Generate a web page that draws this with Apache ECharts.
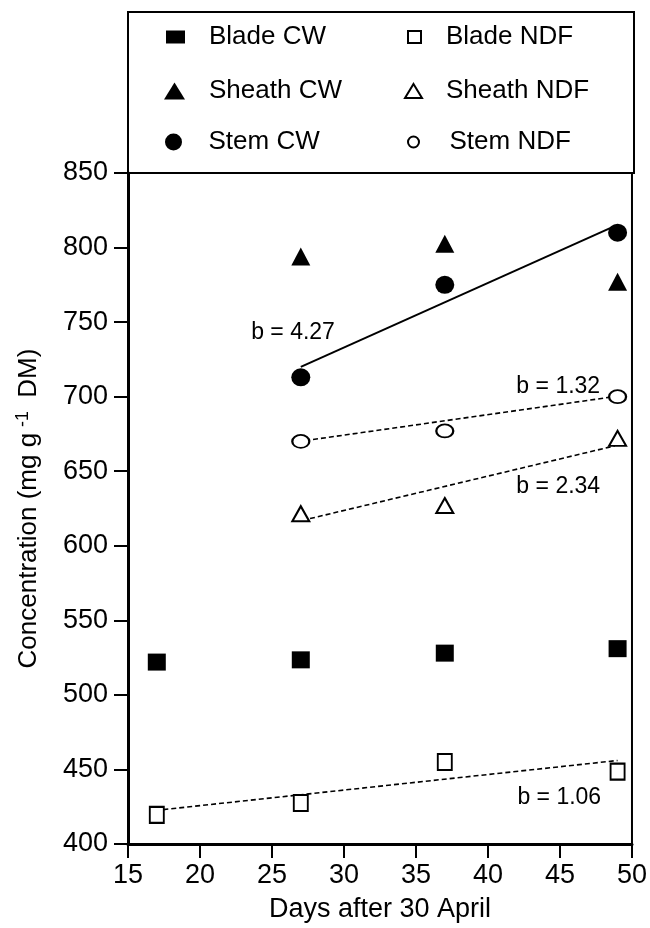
<!DOCTYPE html>
<html>
<head>
<meta charset="utf-8">
<script src="https://cdn.jsdelivr.net/npm/echarts@6/dist/echarts.min.js"></script>
<style>html,body{margin:0;padding:0;background:#fff}#c{width:650px;height:928px}</style>
</head>
<body>
<div id="c"></div>
<script>
// ---- data ----
var days = [17, 27, 37, 49];
var bladeCW = [522, 523.5, 528, 531];
var bladeNDF = [419.5, 427.5, 455, 448.5];
var sheathDays = [27, 37, 49];
var sheathCW = [794, 802.5, 777];
var sheathNDF = [621.5, 627, 672];
var stemCW = [713, 775, 810];
var stemNDF = [670, 677, 700];
// regression fits (start/end of fitted lines)
var fitStemCW = [[27, 720], [48.6, 813.5]];
var fitStemNDF = [[27.3, 670.5], [48.4, 699.5]];
var fitSheathNDF = [[27.1, 617], [48.8, 667]];
var fitBladeNDF = [[16.9, 422.5], [49, 456]];
var slopeLabels = ['b = 4.27', 'b = 1.32', 'b = 2.34', 'b = 1.06'];
var slopeAnchors = [[26.46, 743.2], [44.88, 706.5], [44.88, 639.7], [44.95, 431.4]];
var xTicks = [15, 20, 25, 30, 35, 40, 45, 50];
var yTicks = [400, 450, 500, 550, 600, 650, 700, 750, 800, 850];
var names = ['Blade CW', 'Sheath CW', 'Stem CW', 'Blade NDF', 'Sheath NDF', 'Stem NDF'];

var FONT = 'Liberation Sans, Arial, Helvetica, sans-serif';
function pairs(xs, ys){ return xs.map(function(x,i){ return [x, ys[i]]; }); }

var chart = echarts.init(document.getElementById('c'), null, {renderer:'canvas'});
var filled = {color:'#000', opacity:1};
var open = {color:'#fff', borderColor:'#000', borderWidth:2, opacity:1};
var fitDash = {color:'#000', width:1.6, type:[5,3]};

var series = [
  {name:names[0], type:'scatter', data:pairs(days, bladeCW), symbol:'rect', symbolSize:[18,17], itemStyle:filled, z:5},
  {name:names[1], type:'scatter', data:pairs(sheathDays, sheathCW), symbol:'triangle', symbolSize:[19,18], itemStyle:filled, z:5},
  {name:names[2], type:'scatter', data:pairs(sheathDays, stemCW), symbol:'circle', symbolSize:[19,18], itemStyle:filled, z:5},
  {name:names[3], type:'scatter', data:pairs(days, bladeNDF), symbol:'rect', symbolSize:[14,16], itemStyle:open, z:5},
  {name:names[4], type:'scatter', data:pairs(sheathDays, sheathNDF), symbol:'triangle', symbolSize:[17,15], itemStyle:open, z:5},
  {name:names[5], type:'scatter', data:pairs(sheathDays, stemNDF), symbol:'circle', symbolSize:[17,13], itemStyle:open, z:5},
  {type:'line', data:fitStemCW, symbol:'none', lineStyle:{color:'#000', width:2}, z:3, silent:true},
  {type:'line', data:fitStemNDF, symbol:'none', lineStyle:fitDash, z:3, silent:true},
  {type:'line', data:fitSheathNDF, symbol:'none', lineStyle:fitDash, z:3, silent:true},
  {type:'line', data:fitBladeNDF, symbol:'none', lineStyle:fitDash, z:3, silent:true},
  {type:'scatter', symbolSize:1, silent:true, z:6, itemStyle:{opacity:0},
   data:slopeAnchors.map(function(p,i){ return {value:p, label:{formatter:slopeLabels[i]}}; }),
   label:{show:true, position:'inside', color:'#000', opacity:1, fontSize:23, fontFamily:FONT}}
];

// legend layout: [left, top, iconW, iconH, textPadLeft]
var legLayout = [
  [166, 24, 19, 13, 19],
  [164, 78, 21, 17, 19],
  [165, 129, 18, 17, 21],
  [407, 24, 13, 12, 20],
  [404, 78, 17, 14, 19],
  [407, 129, 12, 11, 25]
];
var legends = names.map(function(n, i){
  var L = legLayout[i];
  return {data:[n], left:L[0], top:L[1], itemWidth:L[2], itemHeight:L[3], padding:0,
    selectedMode:false,
    textStyle:{fontSize:26, lineHeight:26, fontFamily:FONT, color:'#000', padding:[0,0,0,L[4]]}};
});

chart.setOption({
  animation:false,
  backgroundColor:'#fff',
  grid:{left:128, right:16, top:173, bottom:81, show:true, borderColor:'#000', borderWidth:2},
  xAxis:{type:'value', min:15, max:50, interval:5,
    name:'Days after 30 April', nameLocation:'middle', nameGap:52,
    nameTextStyle:{fontSize:27, fontFamily:FONT, color:'#000'},
    axisLine:{show:true, lineStyle:{color:'#000', width:3}},
    axisTick:{show:true, length:14, lineStyle:{color:'#000', width:2}},
    axisLabel:{fontSize:27, fontFamily:FONT, color:'#000', margin:18,
      formatter:function(v){ return xTicks.indexOf(v)>=0 ? String(v) : ''; }},
    splitLine:{show:false}},
  yAxis:{type:'value', min:400, max:850, interval:50,
    name:'{a|Concentration (mg g}{s|-1}{a| DM)}', nameLocation:'middle', nameGap:84, nameRotate:90,
    nameTextStyle:{fontFamily:FONT, color:'#000', rich:{
      a:{fontSize:26, fontFamily:FONT, color:'#000'},
      s:{fontSize:18, fontFamily:FONT, color:'#000', verticalAlign:'top', padding:[0,6,12,6]}}},
    axisLine:{show:true, lineStyle:{color:'#000', width:3}},
    axisTick:{show:true, length:14, lineStyle:{color:'#000', width:2}},
    axisLabel:{fontSize:27, fontFamily:FONT, color:'#000', margin:20,
      formatter:function(v){ return yTicks.indexOf(v)>=0 ? String(v) : ''; }},
    splitLine:{show:false}},
  legend:legends,
  graphic:[{type:'rect', shape:{x:128, y:12, width:506, height:161}, style:{fill:'none', stroke:'#000', lineWidth:2}, silent:true}],
  series:series
});
</script>
</body>
</html>
